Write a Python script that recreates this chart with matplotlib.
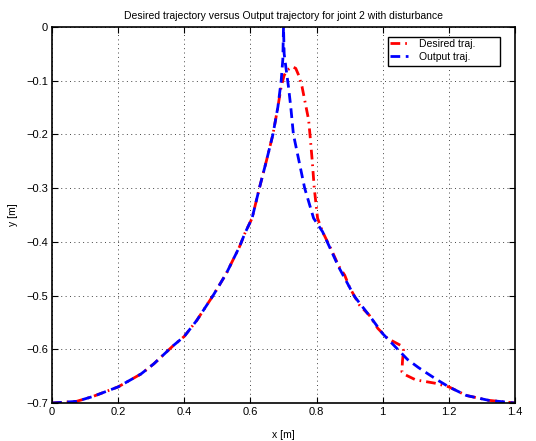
import matplotlib
matplotlib.use("Agg")
import matplotlib.pyplot as plt
from matplotlib.patches import Rectangle

# shared left branch
x_left = [0, 0.074, 0.123, 0.2, 0.269, 0.308, 0.367, 0.4, 0.438, 0.487, 0.527,
          0.567, 0.584, 0.605, 0.627, 0.648, 0.668, 0.683]
y_left = [-0.7, -0.697, -0.688, -0.67, -0.646, -0.627, -0.593, -0.576, -0.546,
          -0.5, -0.459, -0.409, -0.383, -0.356, -0.3, -0.25, -0.2, -0.149]

# output trajectory (after shared branch)
x_out_r = [0.693, 0.698, 0.7, 0.702, 0.707, 0.715, 0.722, 0.73, 0.747, 0.764,
           0.791, 0.818, 0.867, 0.915, 0.963, 1.0, 1.05, 1.075, 1.108, 1.135,
           1.165, 1.2, 1.253, 1.32, 1.4]
y_out_r = [-0.1, -0.06, 0.0, -0.05, -0.074, -0.111, -0.149, -0.2, -0.25, -0.3,
           -0.356, -0.381, -0.447, -0.502, -0.54, -0.571, -0.603, -0.619, -0.634,
           -0.645, -0.657, -0.67, -0.686, -0.695, -0.7]

# desired trajectory (after shared branch)
x_des_r = [0.693, 0.702, 0.712, 0.727, 0.737, 0.746, 0.756, 0.766, 0.776, 0.78,
           0.787, 0.793, 0.803, 0.818, 0.845, 0.867, 0.885, 0.9, 0.93, 0.96,
           0.985, 1.015, 1.055, 1.063, 1.06, 1.058, 1.07, 1.1, 1.157, 1.2,
           1.253, 1.32, 1.4]
y_des_r = [-0.111, -0.09, -0.08, -0.074, -0.077, -0.09, -0.111, -0.142, -0.173,
           -0.2, -0.25, -0.3, -0.356, -0.381, -0.415, -0.445, -0.462, -0.485,
           -0.518, -0.537, -0.561, -0.58, -0.593, -0.602, -0.62, -0.642, -0.648,
           -0.657, -0.663, -0.67, -0.686, -0.695, -0.7]

x_ticks = [0, 0.2, 0.4, 0.6, 0.8, 1.0, 1.2, 1.4]
x_tick_labels = ["0", "0.2", "0.4", "0.6", "0.8", "1", "1.2", "1.4"]
y_ticks = [-0.7, -0.6, -0.5, -0.4, -0.3, -0.2, -0.1, 0]
y_tick_labels = ["\u22120.7", "\u22120.6", "\u22120.5", "\u22120.4", "\u22120.3",
                 "\u22120.2", "\u22120.1", "0"]

plt.rcParams['font.family'] = ['Liberation Sans', 'DejaVu Sans']
plt.rcParams['font.size'] = 7.5

W, H = 536, 441
fig = plt.figure(figsize=(W / 100, H / 100), dpi=100)
L, R, T, B = 52, 515, 27, 403
ax = fig.add_axes([L / W, 1 - B / H, (R - L) / W, (B - T) / H])

ax.plot(x_left + x_des_r, y_left + y_des_r, color='red', linestyle='-.',
        linewidth=2, dashes=(3.5, 1.8, 0.6, 1.8), label='Desired traj.')
ax.plot(x_left + x_out_r, y_left + y_out_r, color='blue', linestyle='--',
        linewidth=2, dashes=(3.5, 2), label='Output traj.')

ax.set_xlim(0, 1.4)
ax.set_ylim(-0.7, 0)
ax.set_xticks(x_ticks)
ax.set_xticklabels(x_tick_labels)
ax.set_yticks(y_ticks)
ax.set_yticklabels(y_tick_labels)
ax.tick_params(direction='in', top=True, right=True, length=4.5, width=0.8,
               labelsize=8, colors='black', pad=3)
ax.grid(True, linestyle=(0, (1, 3.5)), color='#444444', linewidth=0.7)
for s in ax.spines.values():
    s.set_linewidth(1.2)
    s.set_color('black')

ax.set_xlabel('x [m]', fontsize=7.5, labelpad=9)
ax.set_ylabel('y [m]', fontsize=7.5, labelpad=6)
ax.set_title('Desired trajectory versus Output trajectory for joint 2 with disturbance',
             fontsize=7.5, pad=6)

# legend frame (MATLAB-style box) in axes fraction from pixel layout
def ax_x(px):
    return (px - L) / (R - L)

def ax_y(py):
    return (B - py) / (B - T)

box_l, box_r, box_t, box_b = 388, 500, 37, 66
frame = Rectangle((ax_x(box_l), ax_y(box_b)), ax_x(box_r) - ax_x(box_l),
                  ax_y(box_t) - ax_y(box_b), transform=ax.transAxes,
                  facecolor='white', edgecolor='black', linewidth=1.0, zorder=4)
ax.add_patch(frame)
leg = ax.legend(loc='upper left', bbox_to_anchor=(ax_x(389), ax_y(38)),
                fontsize=7.5, frameon=False, handlelength=1.75,
                borderpad=0.1, labelspacing=0.25, handletextpad=1.0,
                borderaxespad=0.0)
leg.set_zorder(5)

fig.savefig('out.png', dpi=100)
